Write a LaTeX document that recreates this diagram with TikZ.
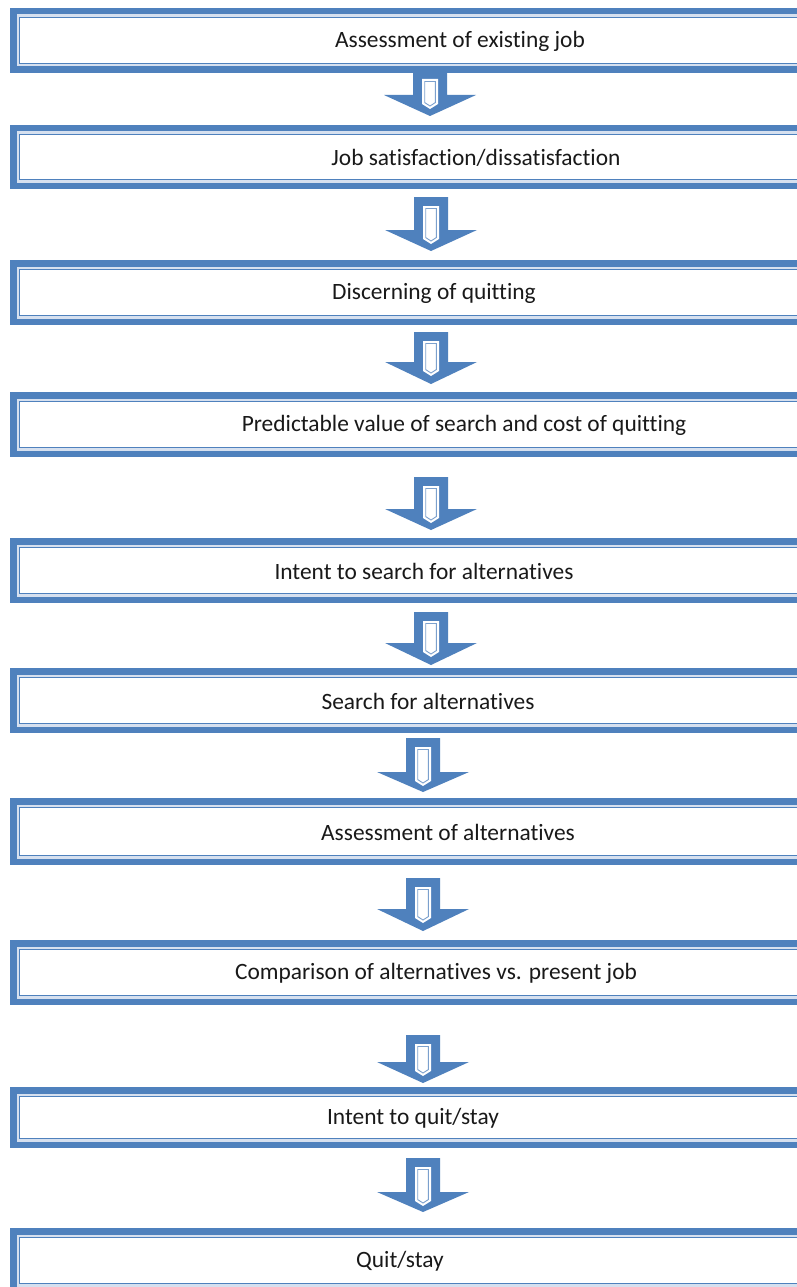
\documentclass[tikz,border=0pt]{standalone}
\usepackage{fontspec}
\setmainfont{Carlito}[Ligatures=NoCommon]
\definecolor{flowblue}{HTML}{4F81BD}
\definecolor{bandblue}{HTML}{D6E0EF}
\tikzset{
  boxlabel/.style={font=\fontsize{23.4}{26}\selectfont, text=black!90, inner sep=0pt},
  thickframe/.style={draw=flowblue, line width=6.5pt},
  bandframe/.style={draw=bandblue, line width=9pt},
  thinframe/.style={draw=flowblue, line width=1.6pt},
  arrowbody/.style={fill=flowblue},
  arrowslot/.style={fill=white},
  arrowline/.style={draw=flowblue!75, line width=0.9pt, line join=miter},
}
% #1 name, #2 top, #3 bottom, #4 text centre x, #5 text
\newcommand\flowbox[5]{%
  \draw[bandframe] (14.5,#2+4.5) rectangle (860,#3-4.5);
  \draw[thickframe] (13.25,#2+3.25) rectangle (860,#3-3.25);
  \draw[thinframe] (19.4,#2+9.4) rectangle (860,#3-9.4);
  \node[boxlabel] (#1) at (#4,{(#2+#3)/2+1}) {#5};
}
% #1 name, #2 centre x, #3 top, #4 shoulder, #5 tip
\newcommand\blockarrow[5]{%
  \coordinate (#1) at (#2,#3);
  \fill[arrowbody] (#2-17,#3) -- (#2+17,#3) -- (#2+17,#4) -- (#2+46,#4) -- (#2,#5) -- (#2-46,#4) -- (#2-17,#4) -- cycle;
  \fill[arrowslot] (#2-8,#3+9) -- (#2+8,#3+9) -- (#2+8,#4+9) -- (#2,#4+14) -- (#2-8,#4+9) -- cycle;
  \draw[arrowline] (#2-5.3,#3+11.5) -- (#2+5.3,#3+11.5) -- (#2+5.3,#4+7.6) -- (#2,#4+11) -- (#2-5.3,#4+7.6) -- cycle;
}
\begin{document}
\begin{tikzpicture}[x=1pt,y=-1pt]
\clip (0,0) rectangle (797,1287);
\fill[white] (0,0) rectangle (797,1287);
\flowbox{b1}{8}{73}{460}{Assessment of existing job}
\flowbox{b2}{125}{189}{476}{Job satisfaction/dissatisfaction}
\flowbox{b3}{260}{325}{434}{Discerning of quitting}
\flowbox{b4}{392}{457}{464}{Predictable value of search and cost of quitting}
\flowbox{b5}{538}{603}{424}{Intent to search for alternatives}
\flowbox{b6}{668}{733}{428}{Search for alternatives}
\flowbox{b7}{798}{865}{448}{Assessment of alternatives}
\flowbox{b8}{940}{1005}{436}{Comparison of alternatives vs. present job}
\flowbox{b9}{1087}{1148}{413}{Intent to quit/stay}
\flowbox{b10}{1228}{1293}{400}{Quit/stay}
\blockarrow{a1}{430}{70}{95}{116}
\blockarrow{a2}{431}{197}{230}{251}
\blockarrow{a3}{431}{332}{362}{384}
\blockarrow{a4}{431}{477}{509}{530}
\blockarrow{a5}{431}{612}{643}{665}
\blockarrow{a6}{423}{738}{772}{792}
\blockarrow{a7}{423}{878}{909}{931}
\blockarrow{a8}{423}{1035}{1062}{1083}
\blockarrow{a9}{423}{1158}{1192}{1212}
\end{tikzpicture}
\end{document}
